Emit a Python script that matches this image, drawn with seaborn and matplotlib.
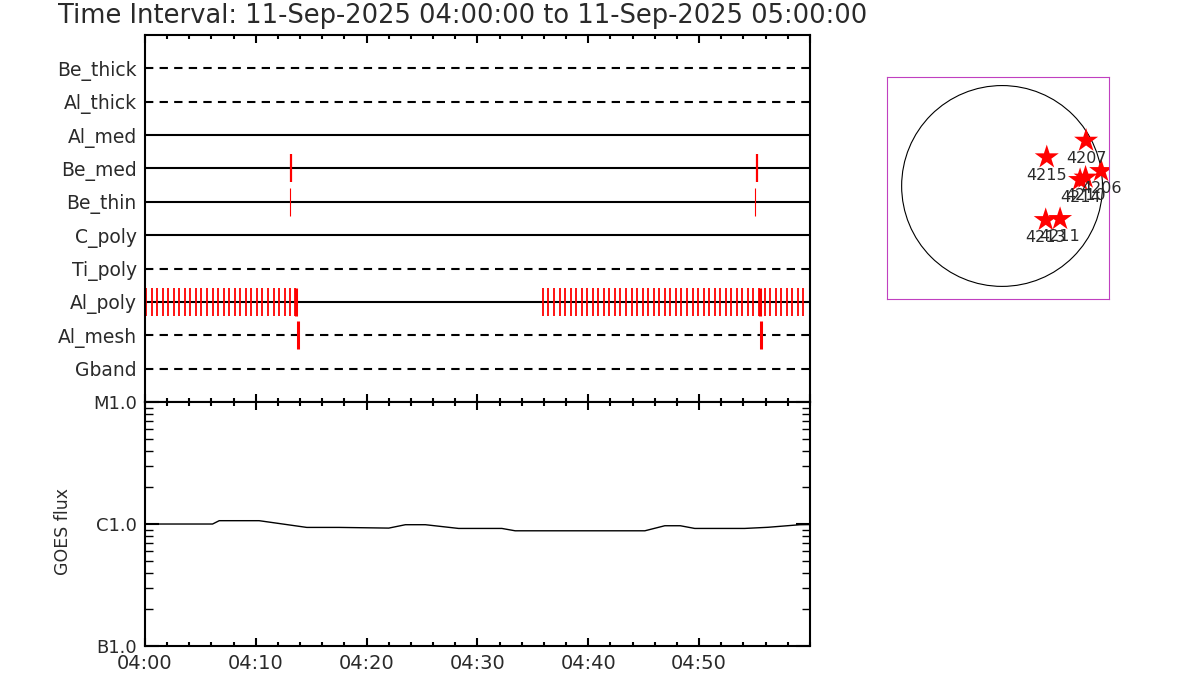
import numpy as np
import pandas as pd
import matplotlib
matplotlib.use("Agg")
import matplotlib.pyplot as plt
from matplotlib.ticker import MultipleLocator, FixedLocator, NullFormatter
import seaborn as sns

# detector rows (top to bottom) and their line style
detectors = ["Be_thick", "Al_thick", "Al_med", "Be_med", "Be_thin",
             "C_poly", "Ti_poly", "Al_poly", "Al_mesh", "Gband"]
dashed = [True, True, False, False, False, False, True, False, True, True]

# event times, minutes after 04:00
be_med_times = [13.2, 55.2]
be_thin_times = [13.1, 55.0]
al_mesh_times = [13.8, 55.6]
al_poly_times = [0.1, 0.6, 1.1, 1.6, 2.1, 2.6, 3.1, 3.6, 4.1, 4.6, 5.1, 5.6,
                 6.1, 6.6, 7.1, 7.6, 8.1, 8.6, 9.1, 9.6, 10.1, 10.6, 11.1,
                 11.6, 12.1, 12.6, 13.1, 13.55,
                 35.9, 36.4, 36.9, 37.4, 37.9, 38.4, 38.9, 39.4, 39.9, 40.4,
                 40.9, 41.4, 41.9, 42.4, 42.9, 43.4, 43.9, 44.4, 44.9, 45.4,
                 45.9, 46.4, 46.9, 47.4, 47.9, 48.4, 48.9, 49.4, 49.9, 50.4,
                 50.9, 51.4, 51.9, 52.4, 52.9, 53.4, 53.9, 54.4, 54.9, 55.4,
                 55.9, 56.4, 56.9, 57.4, 57.9, 58.4, 58.9, 59.4]
al_poly_strong = [13.6, 55.45]

# GOES 1-8 A flux
goes_min = [0, 6.1, 6.7, 10.3, 14.6, 17.5, 22.0, 23.5, 25.3, 28.3, 32.2,
            33.4, 42.4, 45.1, 46.9, 48.3, 49.6, 54.1, 56.2, 59.1, 60]
goes_flux = [1.0e-6, 1.0e-6, 1.065e-6, 1.065e-6, 0.938e-6, 0.938e-6,
             0.926e-6, 0.987e-6, 0.987e-6, 0.92e-6, 0.92e-6, 0.88e-6,
             0.88e-6, 0.88e-6, 0.968e-6, 0.968e-6, 0.92e-6, 0.92e-6,
             0.94e-6, 0.987e-6, 0.99e-6]

time_ticks = [0, 10, 20, 30, 40, 50]
time_labels = ["04:00", "04:10", "04:20", "04:30", "04:40", "04:50"]
flux_ticks = [1e-7, 1e-6, 1e-5]
flux_labels = ["B1.0", "C1.0", "M1.0"]

# active regions, arcsec
ar_num = ["4207", "4215", "4206", "4214", "4210", "4213", "4211"]
ar_x = [795, 423, 937, 738, 790, 413, 549]
ar_y = [429, 272, 142, 57, 80, -322, -312]
sun_r = 950

sns.set_style("white")
plt.rcParams["font.family"] = ["DejaVu Sans"]
plt.rcParams["text.color"] = "#2a2a2a"
plt.rcParams["axes.labelcolor"] = "#2a2a2a"
plt.rcParams["xtick.color"] = "black"
plt.rcParams["ytick.color"] = "black"
plt.rcParams["xtick.labelcolor"] = "#2a2a2a"
plt.rcParams["ytick.labelcolor"] = "#2a2a2a"

fig = plt.figure(figsize=(12, 7), dpi=100)
ax1 = fig.add_axes([0.1208, 0.4257, 0.5542, 0.5243])
ax2 = fig.add_axes([0.1208, 0.0771, 0.5542, 0.3486])
ax3 = fig.add_axes([0.7392, 0.5729, 0.185, 0.3171])

fig.text(0.048, 0.977, "Time Interval: 11-Sep-2025 04:00:00 to 11-Sep-2025 05:00:00",
         fontsize=18.5, va="center", ha="left")

# ---- detector rows
n = len(detectors)
rows = {d: n - 1 - i for i, d in enumerate(detectors)}
for d, ds in zip(detectors, dashed):
    y = rows[d]
    if ds:
        ax1.plot([0, 60], [y, y], color="black", lw=1.5, dashes=(4, 3))
    else:
        ax1.plot([0, 60], [y, y], color="black", lw=1.5)

h = 0.42
ax1.vlines(al_poly_times, rows["Al_poly"] - h, rows["Al_poly"] + h, color="red", lw=1.3)
ax1.vlines(al_poly_strong, rows["Al_poly"] - h, rows["Al_poly"] + h, color="red", lw=2.2)
ax1.vlines(be_med_times, rows["Be_med"] - h, rows["Be_med"] + h, color="red", lw=1.6)
ax1.vlines(be_thin_times, rows["Be_thin"] - h, rows["Be_thin"] + h, color="red", lw=0.8)
ax1.vlines(al_mesh_times, rows["Al_mesh"] - h, rows["Al_mesh"] + h, color="red", lw=2.2)

ax1.set_xlim(0, 60)
ax1.set_ylim(-1, n)
ax1.set_yticks([rows[d] for d in detectors])
ax1.set_yticklabels(detectors, fontsize=13.5)
ax1.tick_params(axis="y", length=0, pad=6)
ax1.xaxis.set_major_locator(MultipleLocator(10))
ax1.xaxis.set_minor_locator(MultipleLocator(2))
ax1.xaxis.set_major_formatter(NullFormatter())
ax1.tick_params(axis="x", which="major", direction="in", top=True, bottom=True,
                length=6, width=1.5)
ax1.tick_params(axis="x", which="minor", direction="in", top=True, bottom=True,
                length=3, width=1.5)
for s in ax1.spines.values():
    s.set_linewidth(1.5)
    s.set_color("black")

# ---- GOES panel
goes = pd.DataFrame({"t": goes_min, "flux": goes_flux})
sns.lineplot(data=goes, x="t", y="flux", ax=ax2, color="black", lw=1.0)
ax2.set_yscale("log")
ax2.set_xlim(0, 60)
ax2.set_ylim(1e-7, 1e-5)
ax2.yaxis.set_major_locator(FixedLocator(flux_ticks))
ax2.set_yticklabels(flux_labels, fontsize=13)
ax2.set_xticks(time_ticks)
ax2.set_xticklabels(time_labels, fontsize=14)
ax2.xaxis.set_minor_locator(MultipleLocator(2))
ax2.tick_params(axis="x", which="major", direction="in", top=True, bottom=True,
                length=6, width=1.5, pad=6)
ax2.tick_params(axis="x", which="minor", direction="in", top=True, bottom=True,
                length=3, width=1.5)
ax2.tick_params(axis="y", which="major", direction="in", left=True, right=True,
                length=10, width=1.5, pad=6)
ax2.tick_params(axis="y", which="minor", direction="in", left=True, right=True,
                length=6, width=1.0)
ax2.yaxis.set_minor_formatter(NullFormatter())
ax2.set_xlabel("")
ax2.set_ylabel("GOES flux", fontsize=12.5)
ax2.yaxis.set_label_coords(-0.11, 0.47)
for s in ax2.spines.values():
    s.set_linewidth(1.5)
    s.set_color("black")

# ---- solar disk
ax3.add_patch(plt.Circle((0, 0), sun_r, fill=False, color="black", lw=0.8))
ar = pd.DataFrame({"x": ar_x, "y": ar_y, "num": ar_num})
sns.scatterplot(data=ar, x="x", y="y", ax=ax3, marker="*", s=330,
                color="red", edgecolor="none", zorder=3)
for xx, yy, lab in zip(ar_x, ar_y, ar_num):
    ax3.text(xx, yy - 170, lab, fontsize=11.5, ha="center", va="center",
             color="#2a2a2a", zorder=4)
ax3.set_xlim(-1088, 1012)
ax3.set_ylim(-1069, 1031)
ax3.set_aspect("equal", adjustable="box")
ax3.set_xticks([])
ax3.set_yticks([])
ax3.set_xlabel("")
ax3.set_ylabel("")
for s in ax3.spines.values():
    s.set_linewidth(0.8)
    s.set_color("#c040c0")

fig.savefig("out.png", dpi=100)
